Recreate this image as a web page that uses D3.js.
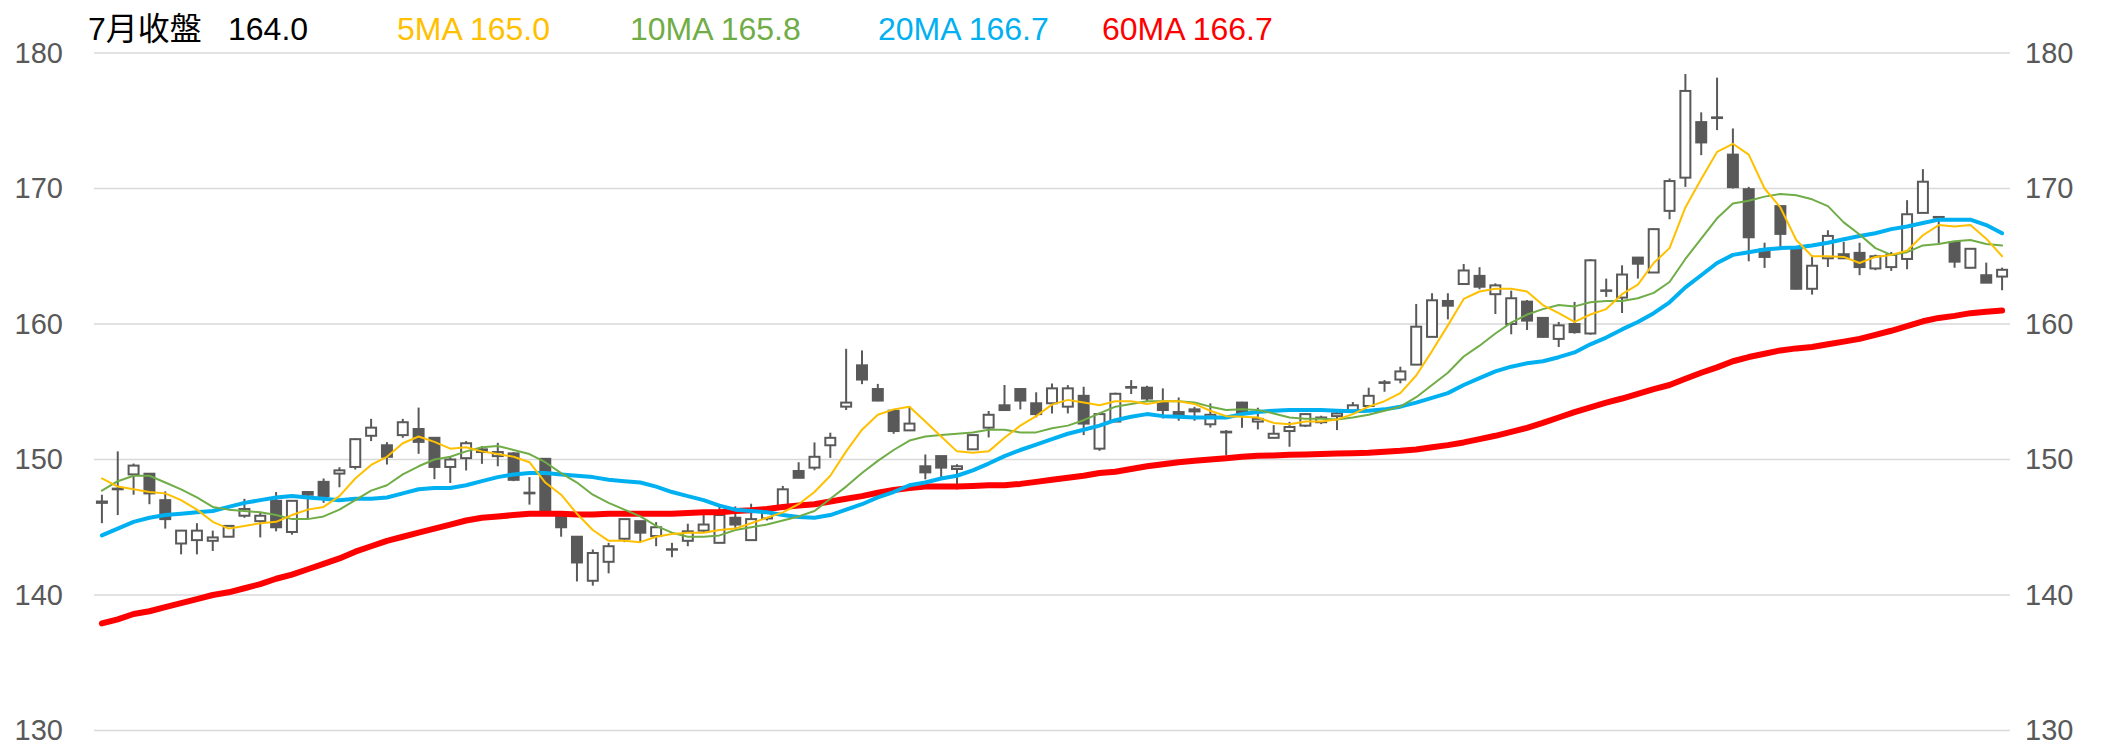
<!DOCTYPE html>
<html><head><meta charset="utf-8">
<script src="https://cdn.jsdelivr.net/npm/d3@7"></script>
<style>
html,body{margin:0;padding:0;background:#fff;}
svg{display:block;}
text{font-family:"Liberation Sans",Arial,"Noto Sans CJK TC",sans-serif;}
</style></head>
<body><svg id="c" width="2102" height="748"></svg>
<script>
const opens  = [146.9,147.85,148.9,148.95,147.0,143.8,144.05,144.0,144.3,145.85,145.45,146.95,144.65,147.6,148.35,148.96,149.45,151.75,151.05,151.8,152.25,151.6,149.45,150.1,150.75,150.25,150.45,147.55,150.05,145.8,
144.3,141.05,142.45,144.15,145.45,144.35,143.38,144.0,144.75,143.85,145.7,144.05,145.65,146.55,149.15,149.4,151.05,153.9,156.95,155.2,153.6,152.15,149.5,150.25,149.3,150.75,152.35,154.0,155.2,154.15,
154.15,153.9,154.7,150.8,152.8,155.3,155.3,154.25,153.5,153.55,152.6,152.05,154.2,152.8,151.6,152.1,152.5,152.75,153.2,153.6,153.95,155.65,155.9,157.0,159.05,161.7,162.95,163.55,162.2,160.0,
161.65,160.45,158.9,160.0,159.3,162.48,161.95,164.9,163.8,168.35,170.8,174.9,175.25,172.5,169.95,165.5,168.7,165.6,162.6,164.85,165.15,165.25,164.1,164.2,164.8,168.2,167.9,166.05,164.15,163.6,163.5];
const highs  = [147.4,150.6,149.7,149.0,147.65,144.8,145.3,144.75,145.15,147.1,146.05,147.6,147.0,147.65,148.6,149.43,151.56,153.0,151.28,153.0,153.83,151.6,150.25,151.36,150.99,151.23,150.54,148.7,150.1,145.8,
144.35,143.36,143.85,145.6,145.45,145.38,143.85,145.26,146.25,146.54,146.54,146.74,146.1,148.05,149.8,151.26,151.98,158.17,158.05,155.58,153.6,153.95,150.37,150.25,149.65,151.8,153.58,155.5,155.2,154.96,
155.6,155.49,155.37,153.47,154.93,155.86,155.44,155.25,154.58,153.89,154.14,152.17,154.26,153.82,152.54,152.78,153.4,153.23,153.6,154.24,155.3,155.86,156.85,161.48,162.27,162.27,164.43,164.19,163.0,162.46,
161.77,160.5,160.15,161.63,164.78,163.35,164.33,164.95,167.05,170.74,178.45,175.62,178.18,174.43,170.12,166.0,168.7,165.6,165.07,166.92,166.06,166.0,165.12,165.32,169.14,171.43,167.95,166.05,165.6,164.53,164.16];
const lows   = [145.3,145.9,147.4,146.7,144.9,143.0,143.0,143.25,144.3,145.7,144.25,144.7,144.45,145.6,146.8,147.95,149.26,151.36,149.63,151.6,150.42,148.55,148.27,149.19,149.68,149.5,148.4,146.67,146.05,144.3,
141.0,140.69,141.6,143.9,143.9,143.6,142.79,143.6,144.64,143.85,144.96,144.05,145.5,146.55,148.65,149.21,150.12,153.65,155.56,154.3,151.9,152.15,148.54,148.7,147.8,150.7,151.63,153.6,153.7,153.11,
153.4,153.4,151.8,150.64,152.8,154.83,154.26,153.03,152.86,152.86,152.36,150.32,152.34,152.22,151.6,150.94,152.4,152.61,152.17,153.6,153.9,155.0,155.62,157.0,159.05,160.34,162.9,162.56,160.74,159.24,
159.56,159.0,158.3,159.29,159.21,162.0,160.81,163.35,163.8,167.73,170.12,172.46,174.31,170.0,164.63,164.14,165.45,162.55,162.17,164.21,164.8,163.6,163.97,163.92,164.04,168.2,165.95,164.15,164.1,163.05,162.49];
const closes = [146.8,147.8,149.55,147.5,145.6,144.75,144.75,144.25,145.1,146.35,145.85,145.0,146.95,147.4,147.3,149.2,151.5,152.35,150.2,152.75,151.3,149.45,150.0,151.2,150.55,150.55,148.5,147.5,146.1,145.0,
142.4,143.1,143.6,145.6,144.6,145.0,143.35,144.7,145.2,145.9,145.2,145.6,146.05,147.8,148.65,150.2,151.6,154.2,155.9,154.35,152.1,152.65,149.05,149.4,149.5,151.8,153.3,153.65,154.35,153.35,
155.25,155.25,152.65,153.35,154.85,155.35,154.5,153.65,153.25,153.7,153.3,152.0,153.4,153.0,151.9,152.4,153.35,153.1,153.4,154.0,154.7,155.7,156.5,159.8,161.75,161.35,163.95,162.75,162.85,161.9,
160.25,159.05,159.9,159.4,164.7,162.45,163.65,164.45,167.0,170.55,177.2,173.4,175.2,170.1,166.4,164.95,166.65,162.6,164.3,166.5,164.85,164.2,165.0,165.1,168.1,170.5,167.85,164.6,165.55,163.05,164.0];

const ma5  = [148.6,148.0,147.8,147.6,147.5,147.0,146.3,145.4,144.9,145.1,145.3,145.4,145.9,146.3,146.5,147.3,148.6,149.6,150.2,151.2,151.7,151.3,150.8,150.9,150.6,150.4,150.2,149.8,148.3,147.4,
146.0,144.8,144.0,144.0,143.9,144.3,144.5,144.6,144.6,144.8,144.9,145.3,145.7,146.1,146.7,147.6,148.8,150.6,152.2,153.3,153.7,153.9,152.8,151.7,150.6,150.5,150.6,151.6,152.5,153.2,
154.05,154.4,154.2,154.0,154.3,154.3,154.1,154.3,154.3,154.1,153.6,153.2,153.15,153.1,152.7,152.6,152.8,152.8,152.95,153.35,153.9,154.3,154.9,156.2,158.0,159.9,161.85,162.4,162.6,162.6,
162.4,161.4,160.8,160.15,160.7,161.1,162.2,162.9,164.5,165.6,168.6,170.7,172.7,173.3,172.5,170.0,168.6,166.2,165.0,165.0,164.95,164.5,164.95,165.1,165.4,166.55,167.3,167.2,167.3,166.3,165.0];
const ma10 = [147.7,148.4,148.8,148.8,148.3,147.8,147.2,146.5,146.3,146.2,146.1,145.9,145.6,145.6,145.8,146.3,147.0,147.7,148.1,148.9,149.5,150.0,150.2,150.6,150.9,151.0,150.7,150.4,149.8,149.0,
148.3,147.4,146.8,146.3,145.8,145.1,144.6,144.3,144.3,144.4,144.8,145.0,145.2,145.5,145.8,146.2,147.1,148.0,149.0,149.9,150.7,151.4,151.7,151.8,151.9,152.0,152.2,152.2,152.0,152.0,
152.3,152.5,152.9,153.4,153.9,154.1,154.3,154.3,154.3,154.2,153.9,153.65,153.7,153.65,153.4,153.1,153.0,153.0,152.95,153.1,153.3,153.6,153.9,154.6,155.5,156.4,157.6,158.4,159.3,160.1,
160.7,161.1,161.4,161.3,161.6,161.7,161.7,161.9,162.3,163.1,164.8,166.3,167.8,168.9,169.1,169.4,169.6,169.5,169.2,168.7,167.5,166.6,165.6,165.1,165.3,165.8,165.9,166.1,166.2,165.9,165.8];
const ma20 = [144.4,144.9,145.4,145.7,145.9,146.0,146.1,146.2,146.5,146.8,147.0,147.2,147.3,147.2,147.1,147.0,147.1,147.1,147.2,147.5,147.8,147.9,147.9,148.1,148.4,148.7,148.9,149.0,149.0,148.9,
148.8,148.7,148.5,148.4,148.3,148.0,147.6,147.3,147.0,146.6,146.3,146.2,146.1,145.9,145.75,145.7,145.9,146.3,146.7,147.2,147.6,148.1,148.3,148.6,148.8,149.2,149.7,150.25,150.7,151.1,
151.5,151.9,152.2,152.5,152.9,153.15,153.35,153.2,153.15,153.1,153.1,153.1,153.35,153.5,153.6,153.65,153.65,153.65,153.6,153.57,153.6,153.7,153.9,154.2,154.55,154.9,155.5,156.0,156.5,156.85,
157.1,157.25,157.55,157.9,158.5,159.0,159.6,160.15,160.8,161.6,162.7,163.6,164.5,165.1,165.3,165.5,165.6,165.65,165.8,166.0,166.25,166.5,166.7,167.0,167.2,167.45,167.7,167.7,167.7,167.3,166.7];
const ma60 = [137.9,138.2,138.6,138.8,139.1,139.4,139.7,140.0,140.2,140.5,140.8,141.2,141.5,141.9,142.3,142.7,143.2,143.6,144.0,144.3,144.6,144.9,145.2,145.5,145.7,145.8,145.9,146.0,146.0,146.0,
145.95,145.95,146.0,146.0,146.0,146.0,146.0,146.05,146.1,146.1,146.2,146.25,146.35,146.5,146.6,146.7,146.9,147.1,147.3,147.55,147.75,147.9,148.0,148.0,148.0,148.05,148.1,148.1,148.2,148.35,
148.5,148.65,148.8,149.0,149.1,149.3,149.5,149.65,149.8,149.9,150.0,150.1,150.2,150.27,150.3,150.35,150.37,150.4,150.44,150.47,150.5,150.57,150.64,150.74,150.9,151.06,151.26,151.5,151.75,152.04,
152.34,152.7,153.1,153.5,153.85,154.2,154.5,154.85,155.2,155.5,155.96,156.4,156.8,157.25,157.56,157.8,158.05,158.2,158.3,158.5,158.7,158.9,159.2,159.5,159.85,160.2,160.45,160.6,160.8,160.9,161.0];

const yTicks = [130,140,150,160,170,180];
const legendItems = [
  {label:"7月收盤", value:"164.0", color:"#000000"},
  {label:"5MA", value:"165.0", color:"#FFC000"},
  {label:"10MA", value:"165.8", color:"#70AD47"},
  {label:"20MA", value:"166.7", color:"#00B0F0"},
  {label:"60MA", value:"166.7", color:"#FF0000"}
];
const maSeries = [
  {values:ma60, color:"#FF0000", width:6},
  {values:ma20, color:"#00B0F0", width:4},
  {values:ma10, color:"#70AD47", width:2},
  {values:ma5,  color:"#FFC000", width:2}
];

const svg = d3.select("#c");
const plotL = 94, plotR = 2010;
const idx = d3.range(closes.length);
const x = d3.scaleBand().domain(idx).range([plotL, plotR]).paddingInner(0.37).paddingOuter(0.185);
const xc = i => x(i) + x.bandwidth()/2;
const y = d3.scaleLinear().domain([130,180]).range([730.5,53]);

// gridlines
svg.append("g").selectAll("line").data(yTicks).join("line")
  .attr("x1", plotL).attr("x2", plotR)
  .attr("y1", d=>y(d)).attr("y2", d=>y(d))
  .attr("stroke", "#d9d9d9").attr("stroke-width", 1.6);

// axes labels
const axL = svg.append("g").attr("transform", `translate(${plotL},0)`)
  .call(d3.axisLeft(y).tickValues(yTicks).tickSize(0).tickPadding(31).tickFormat(d3.format("d")));
const axR = svg.append("g").attr("transform", `translate(${plotR},0)`)
  .call(d3.axisRight(y).tickValues(yTicks).tickSize(0).tickPadding(15).tickFormat(d3.format("d")));
[axL, axR].forEach(a => {
  a.select(".domain").remove();
  a.selectAll("text").attr("font-size", 29).attr("fill", "#595959")
    .attr("font-family", "'Liberation Sans', Arial, sans-serif");
});

// candles
const cg = svg.append("g");
const candle = cg.selectAll("g").data(idx).join("g");
candle.append("line")
  .attr("x1", xc).attr("x2", xc)
  .attr("y1", i=>y(highs[i])).attr("y2", i=>y(lows[i]))
  .attr("stroke", "#595959").attr("stroke-width", 2);
candle.append("rect")
  .attr("x", i=>x(i)).attr("width", x.bandwidth())
  .attr("y", i=>y(Math.max(opens[i], closes[i])))
  .attr("height", i=>Math.max(0.5, Math.abs(y(opens[i]) - y(closes[i]))))
  .attr("fill", i=> closes[i] >= opens[i] ? "#ffffff" : "#595959")
  .attr("stroke", "#595959").attr("stroke-width", 2);

// MA lines
const line = d3.line().x((d,i)=>xc(i)).y(d=>y(d)).curve(d3.curveLinear);
svg.append("g").selectAll("path").data(maSeries).join("path")
  .attr("d", d=>line(d.values))
  .attr("fill", "none")
  .attr("stroke", d=>d.color)
  .attr("stroke-width", d=>d.width)
  .attr("stroke-linejoin", "round").attr("stroke-linecap", "round");

// legend header
const lg = svg.append("g");
const legendPos = [
  {lx:88, vx:228}, {lx:397}, {lx:630}, {lx:878}, {lx:1102}
];
const fs = 32;
legendItems.forEach((d,k) => {
  const t = lg.append("text").attr("x", legendPos[k].lx).attr("y", 40)
    .attr("font-size", fs).attr("fill", d.color)
    .attr("font-family", k===0 ? "'Liberation Sans', Arial, 'Noto Sans CJK TC', sans-serif" : "'Liberation Sans', Arial, sans-serif");
  if (k === 0) {
    t.text(d.label);
    lg.append("text").attr("x", legendPos[k].vx).attr("y", 40).attr("font-size", fs).attr("fill", d.color)
      .attr("font-family", "'Liberation Sans', Arial, sans-serif").text(d.value);
  } else {
    t.text(d.label + " " + d.value);
  }
});
</script></body></html>
